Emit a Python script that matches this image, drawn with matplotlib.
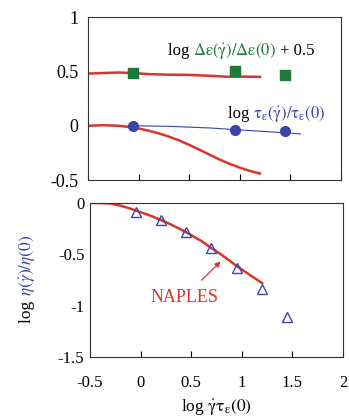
import matplotlib
matplotlib.use("Agg")
import matplotlib.pyplot as plt
import matplotlib.transforms as mtransforms

plt.rcParams['font.family'] = ['Liberation Serif', 'DejaVu Serif']
plt.rcParams['mathtext.fontset'] = 'stix'

RED = '#d9352a'
GREEN = '#1e7a3a'
BLUE = '#3a45a8'

# top panel: symbols
sym_x = [-0.05, 0.95, 1.45]
deps_shift = [0.49, 0.50, 0.47]     # log de(g)/de(0) + 0.5
tau_ratio = [0.0, -0.04, -0.05]     # log tau(g)/tau(0)

# thin blue guide through the circles
tau_line_x = [-0.05, 0.3, 0.7, 0.95, 1.2, 1.45, 1.6]
tau_line_y = [0.0, -0.005, -0.02, -0.035, -0.05, -0.065, -0.075]

# NAPLES curves, top panel
nap_deps_x = [-0.5, -0.35, -0.2, -0.05, 0.1, 0.3, 0.5, 0.7, 0.9, 1.05, 1.2]
nap_deps_y = [0.48, 0.485, 0.49, 0.485, 0.475, 0.47, 0.468, 0.46, 0.45, 0.452, 0.45]
nap_tau_x = [-0.5, -0.35, -0.2, -0.1, 0.0, 0.1, 0.2, 0.3, 0.4, 0.5, 0.6, 0.7, 0.8, 0.9, 1.0, 1.1, 1.2]
nap_tau_y = [0.0, 0.005, 0.0, -0.01, -0.025, -0.045, -0.07, -0.1, -0.135, -0.175, -0.22, -0.265, -0.31, -0.35, -0.385, -0.415, -0.44]

# bottom panel: viscosity
eta_x = [-0.05, 0.2, 0.45, 0.7, 0.95, 1.2, 1.45]
eta_y = [-0.085, -0.165, -0.28, -0.44, -0.63, -0.84, -1.11]
nap_eta_x = [-0.5, -0.4, -0.3, -0.2, -0.1, 0.0, 0.1, 0.2, 0.3, 0.45, 0.6, 0.7, 0.8, 0.95, 1.1, 1.2]
nap_eta_y = [0.0, 0.0, -0.005, -0.025, -0.055, -0.09, -0.125, -0.165, -0.21, -0.285, -0.37, -0.44, -0.505, -0.615, -0.715, -0.78]

xticks = [-0.5, 0, 0.5, 1, 1.5, 2]
xticklabels = ['-0.5', '0', '0.5', '1', '1.5', '2']
top_yticks = [-0.5, 0, 0.5, 1]
top_yticklabels = ['-0.5', '0', '0.5', '1']
bot_yticks = [-1.5, -1, -0.5, 0]
bot_yticklabels = ['-1.5', '-1', '-0.5', '0']


def chain_text(fig, x, y, parts, rotation=0, **kw):
    # draw text pieces one after another, each in its own colour
    t = fig.transFigure
    r = fig.canvas.get_renderer()
    for s, c in parts:
        txt = fig.text(x, y, s, color=c, transform=t, rotation=rotation,
                       rotation_mode='anchor', ha='left', va='baseline', **kw)
        ex = txt.get_window_extent(renderer=r)
        if rotation == 90:
            t = mtransforms.offset_copy(txt.get_transform(), y=ex.height, units='dots')
        else:
            t = mtransforms.offset_copy(txt.get_transform(), x=ex.width, units='dots')


fig = plt.figure(figsize=(3.49, 4.16), dpi=100)
ax1 = fig.add_axes([0.252, 0.567, 0.725, 0.392])
ax2 = fig.add_axes([0.258, 0.142, 0.725, 0.370])

# ---- top panel
ax1.plot(nap_deps_x, nap_deps_y, color=RED, lw=1.8, zorder=2)
ax1.plot(nap_tau_x, nap_tau_y, color=RED, lw=1.8, zorder=2)
ax1.plot(tau_line_x, tau_line_y, color=BLUE, lw=0.8, zorder=2)
ax1.plot(sym_x, deps_shift, 's', color=GREEN, ms=7, zorder=3)
ax1.plot(sym_x, tau_ratio, 'o', color=BLUE, ms=7, zorder=3)
ax1.set_xlim(-0.5, 2)
ax1.set_ylim(-0.5, 1)
ax1.set_xticks(xticks)
ax1.set_xticklabels([])
ax1.set_yticks(top_yticks)
ax1.set_yticklabels(top_yticklabels)
ax1.tick_params(axis='x', direction='in', length=4, width=0.8)
ax1.tick_params(axis='y', direction='in', length=0, pad=7, labelsize=13)

# ---- bottom panel
ax2.plot(nap_eta_x, nap_eta_y, color=RED, lw=1.8, zorder=2)
ax2.plot(eta_x, eta_y, '^', mfc='none', mec=BLUE, mew=1.0, ms=7, zorder=3)
ax2.set_xlim(-0.5, 2)
ax2.set_ylim(-1.5, 0)
ax2.set_xticks(xticks)
ax2.set_xticklabels(xticklabels)
ax2.set_yticks(bot_yticks)
ax2.set_yticklabels(bot_yticklabels)
ax2.tick_params(axis='x', direction='in', length=4, width=0.8, pad=13, labelsize=12)
ax2.tick_params(axis='y', direction='in', length=0, pad=4, labelsize=12)

for ax in (ax1, ax2):
    for sp in ax.spines.values():
        sp.set_linewidth(0.8)
        sp.set_color('#333333')

ax2.annotate('NAPLES', xy=(0.79, -0.57), xytext=(0.43, -0.92),
             color=RED, fontsize=13, ha='center', va='center',
             arrowprops=dict(arrowstyle='-|>', color=RED, lw=0.9,
                             mutation_scale=8, shrinkA=6, shrinkB=0))

# colour-mixed labels
chain_text(fig, 0.481, 0.868,
           [('log ', 'black'),
            (r'$\Delta\mathrm{\varepsilon}(\dot{\mathrm{\gamma}})/\Delta\mathrm{\varepsilon}(0)$', GREEN),
            (' + 0.5', 'black')], fontsize=12)
chain_text(fig, 0.653, 0.716,
           [('log ', 'black'),
            (r'$\mathrm{\tau_\varepsilon}(\dot{\mathrm{\gamma}})/\mathrm{\tau_\varepsilon}(0)$', BLUE)],
           fontsize=12)
chain_text(fig, 0.088, 0.224,
           [('log ', 'black'),
            (r'$\eta(\dot{\gamma})/\eta(0)$', BLUE)], rotation=90, fontsize=12.5)

fig.text(0.62, 0.012, r'log $\dot{\mathrm{\gamma}}\mathrm{\tau_\varepsilon}(0)$',
         ha='center', va='baseline', fontsize=12.5)

fig.savefig('out.png', dpi=100)
